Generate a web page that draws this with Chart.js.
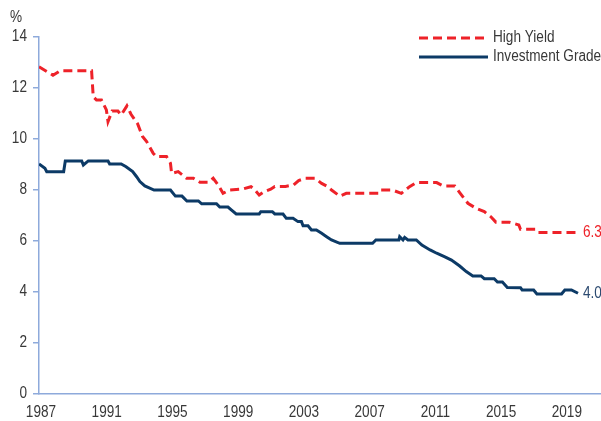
<!DOCTYPE html>
<html>
<head>
<meta charset="utf-8">
<script src="https://cdn.jsdelivr.net/npm/chart.js@4"></script>
<style>
  html, body { margin: 0; padding: 0; background: #fff; }
  #yieldChart { display: block; }
</style>
</head>
<body>
<canvas id="yieldChart" width="601" height="421"></canvas>
<script>
// Data (year, yield %)
const hyYears = [1987.0, 1987.85, 1988.3, 1990.2, 1990.3, 1990.5, 1990.8, 1991.1, 1991.2, 1991.45, 1991.8, 1992.0, 1992.35, 1992.6, 1993.0, 1993.3, 1993.55, 1993.95, 1994.15, 1994.76, 1995.0, 1995.07, 1995.47, 1995.98, 1996.4, 1996.8, 1997.3, 1997.6, 1997.9, 1998.2, 1998.6, 1999.4, 1999.9, 2000.1, 2000.4, 2000.7, 2001.1, 2001.35, 2002.0, 2002.5, 2002.8, 2003.2, 2003.8, 2004.2, 2004.5, 2004.8, 2005.3, 2005.7, 2007.7, 2007.8, 2008.5, 2009.05, 2009.55, 2009.96, 2011.2, 2011.6, 2012.3, 2012.6, 2013.1, 2013.6, 2014.1, 2014.5, 2014.8, 2015.6, 2016.2, 2016.3, 2017.2, 2017.35, 2019.8];
const hyValues = [12.83, 12.5, 12.68, 12.68, 11.66, 11.53, 11.53, 11.14, 10.68, 11.1, 11.1, 10.94, 11.3, 10.97, 10.6, 10.1, 9.9, 9.44, 9.31, 9.31, 9.05, 8.65, 8.72, 8.46, 8.46, 8.3, 8.3, 8.46, 8.2, 7.87, 8.0, 8.04, 8.13, 8.03, 7.8, 7.93, 8.03, 8.14, 8.14, 8.2, 8.37, 8.46, 8.46, 8.26, 8.16, 8.0, 7.76, 7.87, 7.87, 8.0, 8.0, 7.87, 8.13, 8.29, 8.29, 8.16, 8.16, 7.9, 7.48, 7.28, 7.15, 6.95, 6.74, 6.74, 6.63, 6.46, 6.46, 6.33, 6.33];

const igYears = [1987.0, 1987.36, 1987.47, 1988.5, 1988.6, 1989.6, 1989.7, 1990.0, 1991.2, 1991.3, 1992.0, 1992.3, 1992.7, 1992.94, 1993.14, 1993.44, 1994.0, 1995.0, 1995.3, 1995.7, 1996.0, 1996.7, 1996.9, 1997.8, 1998.0, 1998.5, 1998.7, 1999.0, 2000.4, 2000.5, 2001.2, 2001.35, 2001.85, 2002.05, 2002.46, 2002.76, 2002.97, 2003.07, 2003.37, 2003.58, 2003.88, 2004.2, 2004.5, 2004.8, 2005.3, 2007.3, 2007.5, 2008.9, 2008.95, 2009.15, 2009.25, 2009.45, 2009.96, 2010.3, 2010.8, 2011.2, 2011.7, 2012.1, 2012.6, 2013.0, 2013.4, 2013.9, 2014.1, 2014.7, 2014.9, 2015.2, 2015.5, 2016.3, 2016.4, 2017.1, 2017.3, 2018.8, 2019.0, 2019.4, 2019.8];
const igValues = [9.02, 8.85, 8.72, 8.72, 9.14, 9.14, 8.98, 9.14, 9.14, 9.02, 9.02, 8.91, 8.72, 8.52, 8.33, 8.16, 8.0, 8.0, 7.76, 7.76, 7.57, 7.57, 7.46, 7.46, 7.33, 7.33, 7.22, 7.06, 7.06, 7.15, 7.15, 7.06, 7.06, 6.89, 6.89, 6.76, 6.76, 6.6, 6.6, 6.43, 6.43, 6.3, 6.17, 6.04, 5.91, 5.91, 6.04, 6.04, 6.17, 6.04, 6.14, 6.04, 6.04, 5.84, 5.65, 5.52, 5.38, 5.25, 5.02, 4.8, 4.63, 4.63, 4.52, 4.52, 4.39, 4.39, 4.18, 4.17, 4.08, 4.08, 3.92, 3.92, 4.08, 4.08, 3.95];

const xTickYears = [1987, 1991, 1995, 1999, 2003, 2007, 2011, 2015, 2019];
const yTickValues = [0, 2, 4, 6, 8, 10, 12, 14];
const seriesNames = ['High Yield', 'Investment Grade'];
const endLabels = ['6.3', '4.0'];

const RED = '#ee2229';
const NAVY = '#0c3a66';
const AXIS = '#8eaadb';
const TEXT = '#383838';
const FONT = "'Liberation Sans', Arial, sans-serif";
const SQUEEZE = 0.85; // the original uses a narrow face

function toPoints(xs, ys) {
    return xs.map((x, i) => ({ x: x, y: ys[i] }));
}

// narrow text: squeeze horizontally around the anchor
function narrowText(ctx, text, x, y, align) {
    ctx.save();
    ctx.translate(x, y);
    ctx.scale(SQUEEZE, 1);
    ctx.textAlign = align;
    ctx.fillText(text, 0, 0);
    ctx.restore();
}

// Tick labels, legend, % label and end-of-line values
const annotations = {
    id: 'annotations',
    afterDraw(chart) {
        const ctx = chart.ctx;
        const xs = chart.scales.x;
        const ys = chart.scales.y;
        ctx.save();
        ctx.font = '16px ' + FONT;
        ctx.textBaseline = 'middle';
        ctx.fillStyle = TEXT;

        yTickValues.forEach(v => narrowText(ctx, String(v), 27, ys.getPixelForValue(v), 'right'));
        xTickYears.forEach(v => narrowText(ctx, String(v), xs.getPixelForValue(v) + 2, 413, 'center'));
        narrowText(ctx, '%', 10, 18, 'left');

        const rows = [
            { y: 38, color: RED, dash: [9, 5] },
            { y: 57, color: NAVY, dash: [] }
        ];
        rows.forEach((r, i) => {
            ctx.strokeStyle = r.color;
            ctx.lineWidth = 3;
            ctx.setLineDash(r.dash);
            ctx.beginPath();
            ctx.moveTo(419, r.y);
            ctx.lineTo(488, r.y);
            ctx.stroke();
            ctx.setLineDash([]);
            ctx.fillStyle = TEXT;
            narrowText(ctx, seriesNames[i], 493, r.y, 'left');
        });

        const colors = [RED, '#2c4a70'];
        chart.data.datasets.forEach((ds, i) => {
            const meta = chart.getDatasetMeta(i);
            const last = meta.data[meta.data.length - 1];
            ctx.fillStyle = colors[i];
            narrowText(ctx, endLabels[i], last.x + 5, last.y, 'left');
        });
        ctx.restore();
    }
};

const yieldConfig = {
    type: 'line',
    data: {
        datasets: [
            {
                label: seriesNames[0],
                data: toPoints(hyYears, hyValues),
                borderColor: RED,
                borderWidth: 3,
                borderDash: [9, 5],
                pointRadius: 0,
                tension: 0,
                fill: false
            },
            {
                label: seriesNames[1],
                data: toPoints(igYears, igValues),
                borderColor: NAVY,
                borderWidth: 3,
                pointRadius: 0,
                tension: 0,
                fill: false
            }
        ]
    },
    options: {
        responsive: false,
        devicePixelRatio: 1,
        animation: false,
        layout: { padding: { top: 37, right: 0, left: 0, bottom: 0 } },
        plugins: {
            legend: { display: false },
            tooltip: { enabled: false }
        },
        scales: {
            x: {
                type: 'linear',
                min: 1987,
                max: 2021.2,
                afterBuildTicks: (axis) => {
                    axis.ticks = xTickYears.map(v => ({ value: v }));
                },
                afterFit: (axis) => { axis.height = 27; },
                grid: { display: false },
                border: { display: true, color: AXIS, width: 1.5 },
                ticks: { display: false }
            },
            y: {
                min: 0,
                max: 14,
                afterBuildTicks: (axis) => {
                    axis.ticks = yTickValues.map(v => ({ value: v }));
                },
                afterFit: (axis) => { axis.width = 39; },
                grid: {
                    drawOnChartArea: false,
                    drawTicks: true,
                    tickLength: 6,
                    color: AXIS,
                    lineWidth: 1.5
                },
                border: { display: true, color: AXIS, width: 1.5 },
                ticks: { display: false }
            }
        }
    },
    plugins: [annotations]
};

const yieldCtx = document.getElementById('yieldChart').getContext('2d');
new Chart(yieldCtx, yieldConfig);
</script>
</body>
</html>
